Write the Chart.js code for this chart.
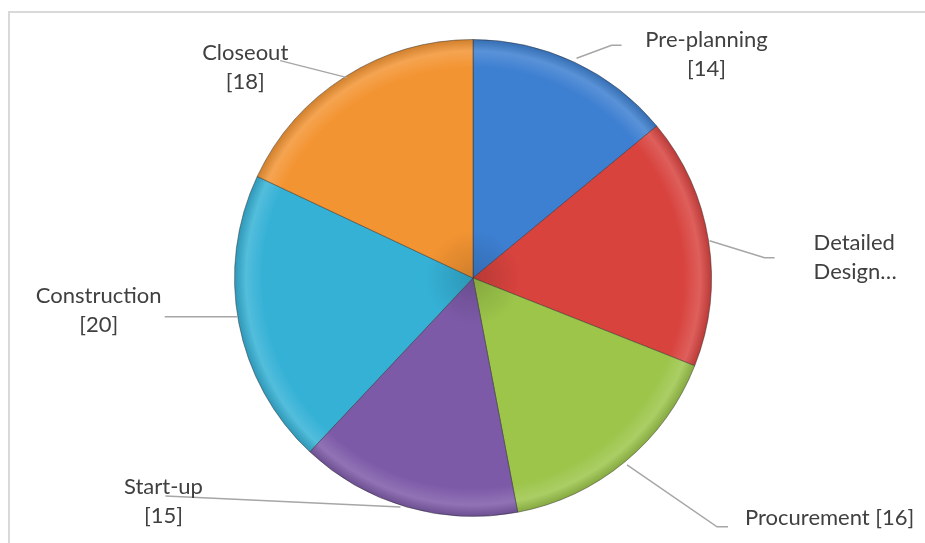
<!DOCTYPE html>
<html>
<head>
<meta charset="utf-8">
<script src="https://cdn.jsdelivr.net/npm/chart.js@4"></script>
<style>
    body { margin: 0; background: #fff; }
    #wrap { position: relative; width: 925px; height: 543px; overflow: hidden; }
    #frame { position: absolute; left: 8px; top: 11px; width: 1000px; height: 1000px;
             border-left: 2px solid #d9d9d9; border-top: 2px solid #d9d9d9; }
    #pie { position: absolute; left: 0; top: 0; }
</style>
</head>
<body>
<div id="wrap">
    <div id="frame"></div>
    <canvas id="pie" width="925" height="543"></canvas>
</div>
<script>
const categories = ['Pre-planning', 'Detailed Design', 'Procurement', 'Start-up', 'Construction', 'Closeout'];
const values = [14, 17, 16, 15, 20, 18];
const sliceColors = ['#3d7fd1', '#d8433e', '#9cc54a', '#7d5aa8', '#35b1d6', '#f39432'];

// how each label is broken into lines (Excel truncated one, put one on a single line)
const labelLines = [
    [categories[0], `[${values[0]}]`],
    ['Detailed', 'Design…'],
    [`${categories[2]} [${values[2]}]`],
    [categories[3], `[${values[3]}]`],
    [categories[4], `[${values[4]}]`],
    [categories[5], `[${values[5]}]`]
];

// leader and text placement, relative to the point on the rim at the slice middle
const labelPlacement = [
    { leader: [[2, -4], [37, -17], [47, -17]], text: [132, -22], align: 'center' },
    { leader: [[1, 0], [56, 17], [66, 17]], text: [105, 2], align: 'left' },
    { leader: [[2, 3], [92, 65], [103, 65]], text: [120, 56], align: 'left' },
    { leader: [[-6, 0], [-241, -11]], text: [-243, -20], align: 'center' },
    { leader: [[-1, -6], [-74, -6]], text: [-140, -27], align: 'center' },
    { leader: [[2, 1], [-65, -16]], text: [-100, -24], align: 'center' }
];

function shade(hex, amt) {
    const n = parseInt(hex.slice(1), 16);
    let r = (n >> 16) & 255, g = (n >> 8) & 255, b = n & 255;
    const f = v => Math.max(0, Math.min(255, Math.round(amt < 0 ? v * (1 + amt) : v + (255 - v) * amt)));
    return `rgb(${f(r)},${f(g)},${f(b)})`;
}

// bevel-ish look: darker towards the centre, light rim, dark outer edge
function sliceFill(ctx) {
    const chart = ctx.chart;
    const base = sliceColors[ctx.dataIndex];
    const area = chart.chartArea;
    if (!area) return base;
    const cx = (area.left + area.right) / 2;
    const cy = (area.top + area.bottom) / 2;
    const r = Math.min(area.right - area.left, area.bottom - area.top) / 2;
    const g = chart.ctx.createRadialGradient(cx, cy, 0, cx, cy, r);
    g.addColorStop(0, shade(base, -0.15));
    g.addColorStop(0.2, base);
    g.addColorStop(0.88, base);
    g.addColorStop(0.95, shade(base, 0.15));
    g.addColorStop(1, shade(base, -0.15));
    return g;
}

const leaderLabels = {
    id: 'leaderLabels',
    afterDatasetsDraw(chart) {
        const ctx = chart.ctx;
        const arcs = chart.getDatasetMeta(0).data;
        ctx.save();
        arcs.forEach((arc, i) => {
            const mid = (arc.startAngle + arc.endAngle) / 2;
            const ex = arc.x + arc.outerRadius * Math.cos(mid);
            const ey = arc.y + arc.outerRadius * Math.sin(mid);
            const p = labelPlacement[i];

            ctx.strokeStyle = '#a6a6a6';
            ctx.lineWidth = 1.5;
            ctx.beginPath();
            p.leader.forEach((pt, k) => {
                if (k === 0) ctx.moveTo(ex + pt[0], ey + pt[1]);
                else ctx.lineTo(ex + pt[0], ey + pt[1]);
            });
            ctx.stroke();

            ctx.fillStyle = '#404040';
            ctx.font = '22px Lato, sans-serif';
            ctx.textAlign = p.align;
            ctx.textBaseline = 'middle';
            labelLines[i].forEach((line, k) => {
                ctx.fillText(line, ex + p.text[0], ey + p.text[1] + k * 29);
            });
        });
        ctx.restore();
    }
};

new Chart(document.getElementById('pie'), {
    type: 'pie',
    data: {
        labels: categories,
        datasets: [{
            data: values,
            backgroundColor: sliceFill,
            borderColor: 'rgba(40,40,40,0.45)',
            borderWidth: 1
        }]
    },
    options: {
        responsive: false,
        animation: false,
        layout: { padding: { left: 21, right: 0, top: 39, bottom: 26 } },
        plugins: {
            legend: { display: false },
            tooltip: { enabled: false }
        }
    },
    plugins: [leaderLabels]
});
</script>
</body>
</html>
